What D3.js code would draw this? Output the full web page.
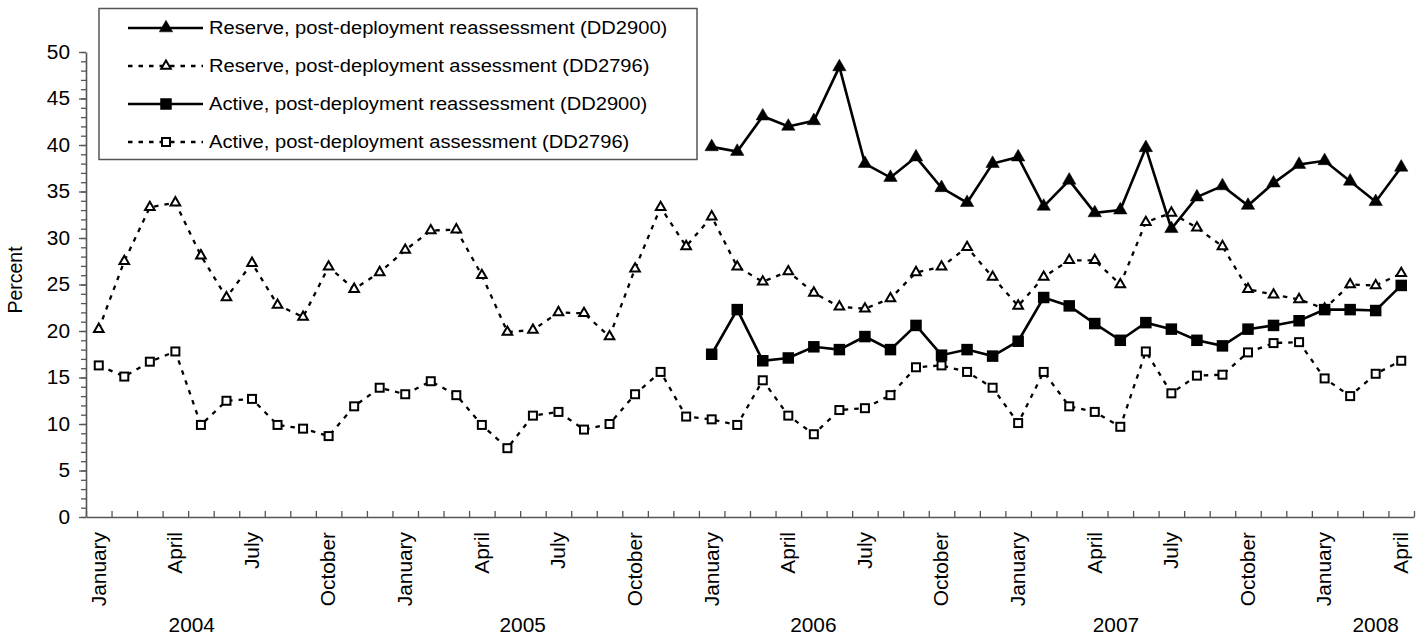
<!DOCTYPE html>
<html>
<head>
<meta charset="utf-8">
<script src="https://cdn.jsdelivr.net/npm/d3@7"></script>
<style>
  body { margin: 0; background: #fff; }
  svg text { font-family: "Liberation Sans", Arial, sans-serif; fill: #000; }
</style>
</head>
<body>
<svg id="chart" width="1424" height="637"></svg>
<script>
    // month labels, Jan 2004 .. Apr 2008
    var monthNames = ['January','February','March','April','May','June','July','August','September','October','November','December'];
    var months = d3.range(52).map(function(i) { return monthNames[i % 12]; });
    var shownMonths = ['January', 'April', 'July', 'October'];

    // year labels and where they sit (in month units)
    var years = ['2004', '2005', '2006', '2007', '2008'];
    var yearPos = [4.14, 17.1, 28.48, 40.33, 50.5];

    var yTicks = [0, 5, 10, 15, 20, 25, 30, 35, 40, 45, 50];

    var seriesNames = [
        'Reserve, post-deployment reassessment (DD2900)',
        'Reserve, post-deployment assessment (DD2796)',
        'Active, post-deployment reassessment (DD2900)',
        'Active, post-deployment assessment (DD2796)'
    ];

    var n = null;
    var reserveReassess = [n,n,n,n,n,n,n,n,n,n,n,n, n,n,n,n,n,n,n,n,n,n,n,n,
        39.8, 39.3, 43.1, 42.0, 42.6, 48.4, 38.0, 36.5, 38.7, 35.4, 33.8, 38.0,
        38.7, 33.4, 36.2, 32.7, 33.0, 39.7, 31.0, 34.4, 35.6, 33.5, 35.9, 37.9,
        38.3, 36.1, 33.9, 37.6];
    var reserveAssess = [20.2, 27.5, 33.3, 33.8, 28.1, 23.6, 27.3, 22.8, 21.5, 26.9, 24.5, 26.3,
        28.7, 30.8, 30.9, 26.0, 19.9, 20.1, 22.0, 21.9, 19.4, 26.7, 33.3, 29.1,
        32.3, 26.9, 25.3, 26.4, 24.1, 22.6, 22.4, 23.5, 26.3, 26.9, 29.0, 25.8,
        22.7, 25.8, 27.6, 27.6, 25.0, 31.7, 32.7, 31.1, 29.1, 24.5, 23.9, 23.4,
        22.4, 25.0, 24.9, 26.2];
    var activeReassess = [n,n,n,n,n,n,n,n,n,n,n,n, n,n,n,n,n,n,n,n,n,n,n,n,
        17.5, 22.3, 16.8, 17.1, 18.3, 18.0, 19.4, 18.0, 20.6, 17.4, 18.0, 17.3,
        18.9, 23.6, 22.7, 20.8, 19.0, 20.9, 20.2, 19.0, 18.4, 20.2, 20.6, 21.1,
        22.3, 22.3, 22.2, 24.9];
    var activeAssess = [16.3, 15.1, 16.7, 17.8, 9.9, 12.5, 12.7, 9.9, 9.5, 8.7, 11.9, 13.9,
        13.2, 14.6, 13.1, 9.9, 7.4, 10.9, 11.3, 9.4, 10.0, 13.2, 15.6, 10.8,
        10.5, 9.9, 14.7, 10.9, 8.9, 11.5, 11.7, 13.1, 16.1, 16.3, 15.6, 13.9,
        10.1, 15.6, 11.9, 11.3, 9.7, 17.8, 13.3, 15.2, 15.3, 17.7, 18.7, 18.8,
        14.9, 13.0, 15.4, 16.8];

    var svg = d3.select('#chart');
    var axisColor = '#555';
    var fontSize = 19.5, stretch = 1.07;

    // scales
    var xScale = d3.scaleLinear().domain([0, months.length]).range([86, 1414]);
    var yScale = d3.scaleLinear().domain([0, 50]).range([517, 52]);

    // y axis, minor ticks first then major
    svg.append('g')
       .attr('transform', 'translate(86,0)')
       .call(d3.axisLeft(yScale).tickValues(d3.range(0, 51)).tickSize(5).tickFormat(''))
       .call(function(g) { g.select('.domain').remove(); });

    svg.append('g')
       .attr('class', 'y axis')
       .attr('transform', 'translate(86,0)')
       .call(d3.axisLeft(yScale).tickValues(yTicks).tickSizeInner(7).tickSizeOuter(0).tickFormat(''));

    svg.selectAll('.ylab')
       .data(yTicks)
       .enter().append('text')
       .attr('class', 'ylab')
       .attr('transform', function(d) { return 'translate(70,' + yScale(d) + ') scale(' + stretch + ',1)'; })
       .attr('text-anchor', 'end')
       .attr('dy', '0.35em')
       .attr('font-size', fontSize + 'px')
       .text(function(d) { return d; });

    // x axis: ticks at month boundaries pointing up
    svg.append('g')
       .attr('class', 'x axis')
       .attr('transform', 'translate(0,517)')
       .call(d3.axisBottom(xScale).tickValues(d3.range(0, months.length + 1)).tickSizeInner(-6).tickSizeOuter(0).tickFormat(''));

    svg.selectAll('g line').attr('stroke', axisColor).attr('stroke-width', 1.3);
    svg.selectAll('.axis path').attr('stroke', axisColor).attr('stroke-width', 1.6);

    // month labels
    svg.selectAll('.mlab')
       .data(months.map(function(m, i) { return {m: m, i: i}; }).filter(function(d) { return shownMonths.indexOf(d.m) >= 0; }))
       .enter().append('text')
       .attr('class', 'mlab')
       .attr('transform', function(d) { return 'translate(' + xScale(d.i + 0.5) + ',532) rotate(-90) scale(' + stretch + ',1)'; })
       .attr('text-anchor', 'end')
       .attr('dy', '0.35em')
       .attr('font-size', fontSize + 'px')
       .text(function(d) { return d.m; });

    // year labels
    svg.selectAll('.yrlab')
       .data(years)
       .enter().append('text')
       .attr('class', 'yrlab')
       .attr('transform', function(d, i) { return 'translate(' + xScale(yearPos[i]) + ',632) scale(' + stretch + ',1)'; })
       .attr('text-anchor', 'middle')
       .attr('font-size', fontSize + 'px')
       .text(function(d) { return d; });

    // y axis title
    svg.append('text')
       .attr('transform', 'translate(15,280) rotate(-90)')
       .attr('text-anchor', 'middle')
       .attr('dy', '0.35em')
       .attr('font-size', '19.5px')
       .text('Percent');

    // series styles
    var series = [
        {name: seriesNames[0], values: reserveReassess, dash: null, shape: 'triangle', filled: true},
        {name: seriesNames[1], values: reserveAssess, dash: '4.5,6', shape: 'triangle', filled: false},
        {name: seriesNames[2], values: activeReassess, dash: null, shape: 'square', filled: true},
        {name: seriesNames[3], values: activeAssess, dash: '4.5,6', shape: 'square', filled: false}
    ];

    var line = d3.line()
        .defined(function(d) { return d != null; })
        .x(function(d, i) { return xScale(i + 0.5); })
        .y(function(d) { return yScale(d); });

    function drawMarker(g, s) {
        if (s.shape == 'triangle') {
            g.append('path')
             .attr('d', d3.symbol().type(d3.symbolTriangle).size(s.filled ? 78 : 40)())
             .attr('fill', s.filled ? '#000' : '#fff')
             .attr('stroke', '#000')
             .attr('stroke-width', s.filled ? 0.5 : 2);
        } else {
            var a = s.filled ? 11.5 : 8;
            g.append('rect')
             .attr('x', -a / 2).attr('y', -a / 2)
             .attr('width', a).attr('height', a)
             .attr('fill', s.filled ? '#000' : '#fff')
             .attr('stroke', '#000')
             .attr('stroke-width', s.filled ? 0 : 2);
        }
    }

    series.forEach(function(s) {
        svg.append('path')
           .datum(s.values)
           .attr('fill', 'none')
           .attr('stroke', '#000')
           .attr('stroke-width', s.dash ? 2.3 : 2.6)
           .attr('stroke-dasharray', s.dash)
           .attr('d', line);
    });

    series.forEach(function(s) {
        svg.append('g')
           .selectAll('g')
           .data(s.values.map(function(v, i) { return {v: v, i: i}; }).filter(function(d) { return d.v != null; }))
           .enter().append('g')
           .attr('transform', function(d) { return 'translate(' + xScale(d.i + 0.5) + ',' + yScale(d.v) + ')'; })
           .each(function() { drawMarker(d3.select(this), s); });
    });

    // legend
    var legend = svg.append('g');
    legend.append('rect')
          .attr('x', 99).attr('y', 8.5)
          .attr('width', 598).attr('height', 151)
          .attr('fill', '#fff')
          .attr('stroke', axisColor)
          .attr('stroke-width', 1.5);

    var rowY = [28, 66, 104, 142];
    series.forEach(function(s, i) {
        var row = legend.append('g').attr('transform', 'translate(0,' + rowY[i] + ')');
        row.append('line')
           .attr('x1', 128).attr('x2', 203)
           .attr('stroke', '#000')
           .attr('stroke-width', s.dash ? 2.3 : 2.6)
           .attr('stroke-dasharray', s.dash);
        drawMarker(row.append('g').attr('transform', 'translate(166,0)'), s);
        row.append('text')
           .attr('transform', 'translate(209,0) scale(1.1,1)')
           .attr('dy', '0.35em')
           .attr('font-size', '18.3px')
           .text(s.name);
    });
</script>
</body>
</html>
